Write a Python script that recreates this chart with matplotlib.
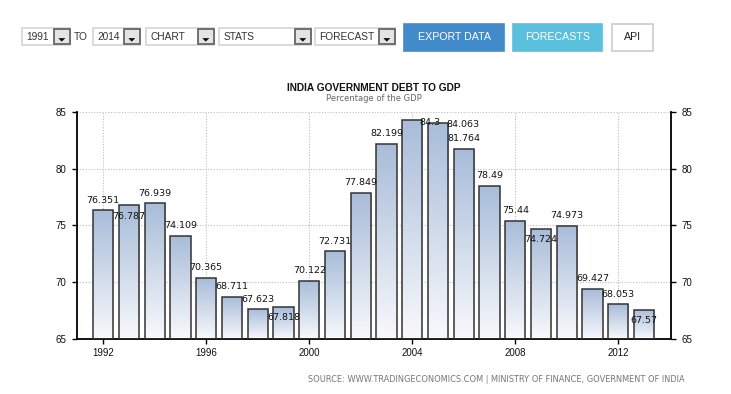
import numpy as np
import matplotlib
matplotlib.use("Agg")
import matplotlib.pyplot as plt
from matplotlib.colors import LinearSegmentedColormap
from matplotlib.patches import Rectangle, Polygon

# ---------------- data ----------------
years = [1992, 1993, 1994, 1995, 1996, 1997, 1998, 1999, 2000, 2001, 2002,
         2003, 2004, 2005, 2006, 2007, 2008, 2009, 2010, 2011, 2012, 2013]
debt = [76.351, 76.787, 76.939, 74.109, 70.365, 68.711, 67.623, 67.818,
        70.122, 72.731, 77.849, 82.199, 84.3, 84.063, 81.764, 78.49, 75.44,
        74.724, 74.973, 69.427, 68.053, 67.57]
labels = ["76.351", "76.787", "76.939", "74.109", "70.365", "68.711", "67.623",
          "67.818", "70.122", "72.731", "77.849", "82.199", "84.3", "84.063",
          "81.764", "78.49", "75.44", "74.724", "74.973", "69.427", "68.053",
          "67.57"]
xticks = [1992, 1996, 2000, 2004, 2008, 2012]
yticks = [65, 70, 75, 80, 85]

title = "INDIA GOVERNMENT DEBT TO GDP"
subtitle = "Percentage of the GDP"
source = "SOURCE: WWW.TRADINGECONOMICS.COM | MINISTRY OF FINANCE, GOVERNMENT OF INDIA"

# label placement (pixels, up positive) -- style, not data
lab_dx = [0, 0, 0, 0, 0, 0, 0, 0, 0, 0, 0, 0, 18, 24.5, 0, 0, 0, 0, 0, 0, 0, 0]
lab_dy = [11, -10, 11, 11, 11.6, 11, 11, -10, 11, 11, 11.5, 11, -1.4, -0.6,
          11.6, 11, 11, -10, 11, 11.6, 11, -10]

W, H = 731, 394
fig = plt.figure(figsize=(W / 100, H / 100), dpi=100)
fig.patch.set_facecolor("white")

# ---------------- UI overlay (pixel coords) ----------------
ui = fig.add_axes([0, 0, 1, 1], zorder=0)
ui.set_xlim(0, W)
ui.set_ylim(H, 0)
ui.axis("off")

ui_font = "Liberation Sans"
boxes = [(22, 70, "1991"), (93, 140, "2014"), (146, 214, "CHART"),
         (219, 311, "STATS"), (315, 395, "FORECAST")]
for x0, x1, txt in boxes:
    ui.add_patch(Rectangle((x0, 28), x1 - x0, 17, facecolor="white",
                           edgecolor="#d4d4d4", lw=1.2))
    ui.text(x0 + 4.5, 36.8, txt, fontsize=7.3, family=ui_font, color="#333333",
            ha="left", va="center")
    bx0 = x1 - 16
    ui.add_patch(Rectangle((bx0, 28.5), 15.5, 15.5, facecolor="#e4e4e4",
                           edgecolor="#666666", lw=1.3))
    cx = bx0 + 7.8
    ui.add_patch(Polygon([(cx - 3, 38.3), (cx + 3, 38.3), (cx, 41.3)],
                         closed=True, facecolor="black", edgecolor="black", lw=0.3))
ui.text(73.5, 36.8, "TO", fontsize=7.3, family=ui_font, color="#333333",
        ha="left", va="center")

buttons = [(404, 504, "EXPORT DATA", "#428bca", "#428bca", "white"),
           (513, 602, "FORECASTS", "#5bc0de", "#5bc0de", "white"),
           (612, 653, "API", "white", "#cccccc", "#222222")]
for x0, x1, txt, fc, ec, tc in buttons:
    ui.add_patch(Rectangle((x0, 23.5), x1 - x0, 27, facecolor=fc,
                           edgecolor=ec, lw=1.2))
    ui.text((x0 + x1) / 2, 37.2, txt, fontsize=7.7, family=ui_font, color=tc,
            ha="center", va="center")

t1 = ui.text(374, 88, title, fontsize=7.4, family="Liberation Sans",
             fontweight="bold", color="#111111", ha="center", va="center")
t2 = ui.text(374, 98, subtitle, fontsize=6.0, family="DejaVu Sans",
             color="#666666", ha="center", va="center")
t3 = ui.text(496, 380, source, fontsize=6.0, family="DejaVu Sans",
             color="#777777", ha="center", va="center")


def fit(t, target):
    fig.canvas.draw()
    w = t.get_window_extent().width
    t.set_fontsize(t.get_fontsize() * target / w)


fit(t1, 172)
fit(t2, 96)
fit(t3, 382)

# ---------------- main chart ----------------
left, right, top, bottom = 77, 671, 112, 339
ax = fig.add_axes([left / W, 1 - bottom / H, (right - left) / W, (bottom - top) / H],
                  zorder=1)
ax.set_facecolor("none")

cmap = LinearSegmentedColormap.from_list("g", ["#f8f9fc", "#a8bcd9"])
grad = np.linspace(0, 1, 256).reshape(-1, 1)

bw = 0.78
bars = ax.bar(years, [v - 65 for v in debt], bottom=65, width=bw,
              facecolor="none", edgecolor="#333333", lw=1.1, zorder=3)
for rect, v in zip(bars, debt):
    x0 = rect.get_x()
    im = ax.imshow(grad, extent=[x0, x0 + bw, 65, v], origin="lower",
                   aspect="auto", cmap=cmap, zorder=2, interpolation="bilinear")
    im.set_clip_path(rect)

for x, v, s, dx, dy in zip(years, debt, labels, lab_dx, lab_dy):
    ax.annotate(s, xy=(x, v), xytext=(dx, dy - 3.4), textcoords="offset pixels",
                ha="center", va="baseline", fontsize=6.8, family="DejaVu Sans",
                color="#111111", zorder=5, annotation_clip=False)

ax.set_xlim(1990.98, 2014.05)
ax.set_ylim(65, 85)
ax.set_xticks(xticks)
ax.set_yticks(yticks)
ax.set_xticklabels([str(t) for t in xticks])
ax.set_yticklabels([str(t) for t in yticks])

ax.grid(True, color="#bdbdbd", linestyle=(0, (1, 1.5)), lw=0.8)
ax.set_axisbelow(True)

for sp in ["left", "right", "bottom"]:
    ax.spines[sp].set_color("black")
    ax.spines[sp].set_linewidth(1.3)
ax.spines["top"].set_visible(False)

ax.tick_params(axis="both", direction="out", length=3.6, width=1, color="black",
               labelsize=7.0, labelcolor="#111111", pad=3)
ax.tick_params(axis="y", right=True, labelright=True, pad=4)
for lab in ax.get_xticklabels() + ax.get_yticklabels():
    lab.set_family("Liberation Sans")
for lab in ax.yaxis.get_ticklabels(which="both"):
    lab.set_family("Liberation Sans")
for t in ax.yaxis.get_major_ticks():
    t.label2.set_family("Liberation Sans")

fig.savefig("out.png", dpi=100)
